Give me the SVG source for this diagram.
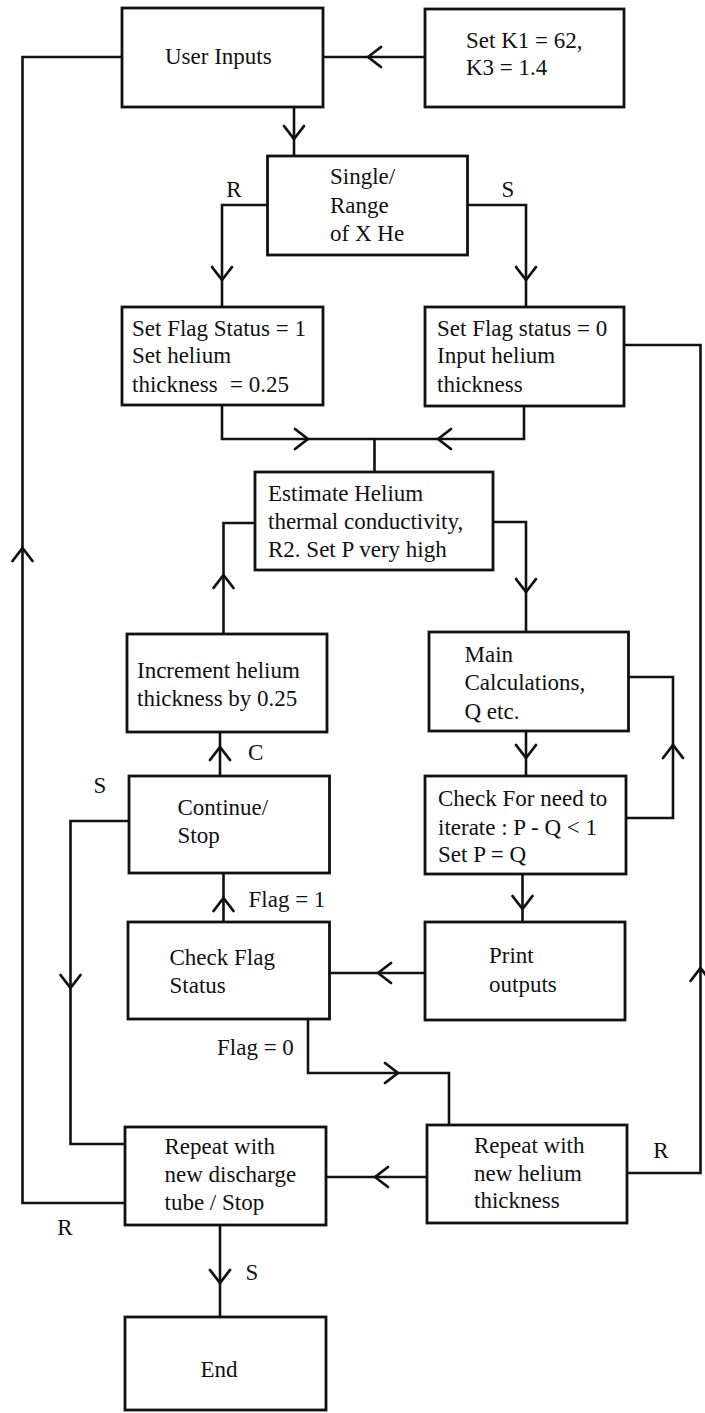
<svg xmlns="http://www.w3.org/2000/svg" xmlns:xlink="http://www.w3.org/1999/xlink" width="705" height="1413" viewBox="0 0 705 1413">
  <style>
    .box { fill: #ffffff; stroke: #111111; stroke-width: 2.8; }
    .wire { fill: none; stroke: #111111; stroke-width: 2.6; }
    .chev { fill: none; stroke: #111111; stroke-width: 2.8; stroke-linecap: round; stroke-linejoin: round; }
    text { font-family: "Liberation Serif", "Times New Roman", serif; font-size: 23px; fill: #111111; }
    .mid { text-anchor: middle; }
  </style>
  <defs>
    <!-- open chevron, tip at origin, pointing down -->
    <path id="chev" class="chev" d="M-10,-13 L0,0 L10,-13"/>
  </defs>
  <rect width="705" height="1413" fill="#ffffff"/>

  <!-- connectors -->
  <g id="connectors">
    <path class="wire" d="M425,57 H323"/>
    <path class="wire" d="M294,107 V156"/>
    <path class="wire" d="M267.5,205 H222 V307"/>
    <path class="wire" d="M467.5,205 H526 V307"/>
    <path class="wire" d="M222,405 V439 H524 V406"/>
    <path class="wire" d="M374.5,439 V472"/>
    <path class="wire" d="M493,522 H526 V632"/>
    <path class="wire" d="M223.5,634 V523 H255"/>
    <path class="wire" d="M526,731 V776"/>
    <path class="wire" d="M626,818 H673 V677 H628.5"/>
    <path class="wire" d="M220,776 V732"/>
    <path class="wire" d="M522.5,874 V922"/>
    <path class="wire" d="M223.5,922 V873"/>
    <path class="wire" d="M425,973 H329.5"/>
    <path class="wire" d="M308,1019 V1073 H449 V1125"/>
    <path class="wire" d="M129,821 H70.5 V1144 H125"/>
    <path class="wire" d="M427,1177 H326"/>
    <path class="wire" d="M627,1173 H700.5 V345 H624"/>
    <path class="wire" d="M125,1203 H22.5 V57 H122"/>
    <path class="wire" d="M220,1225 V1317"/>

    <!-- arrowheads -->
    <use xlink:href="#chev" transform="translate(368,57) rotate(90)"/>
    <use xlink:href="#chev" transform="translate(294,139)"/>
    <use xlink:href="#chev" transform="translate(222,280)"/>
    <use xlink:href="#chev" transform="translate(526,280)"/>
    <use xlink:href="#chev" transform="translate(308,439) rotate(-90)"/>
    <use xlink:href="#chev" transform="translate(438,439) rotate(90)"/>
    <use xlink:href="#chev" transform="translate(526,592)"/>
    <use xlink:href="#chev" transform="translate(223.5,575) rotate(180)"/>
    <use xlink:href="#chev" transform="translate(526,758)"/>
    <use xlink:href="#chev" transform="translate(673,745) rotate(180)"/>
    <use xlink:href="#chev" transform="translate(220,747) rotate(180)"/>
    <use xlink:href="#chev" transform="translate(522.5,909)"/>
    <use xlink:href="#chev" transform="translate(223.5,898) rotate(180)"/>
    <use xlink:href="#chev" transform="translate(378,973) rotate(90)"/>
    <use xlink:href="#chev" transform="translate(398,1073) rotate(-90)"/>
    <use xlink:href="#chev" transform="translate(70.5,988)"/>
    <use xlink:href="#chev" transform="translate(375,1177) rotate(90)"/>
    <use xlink:href="#chev" transform="translate(700.5,968) rotate(180)"/>
    <use xlink:href="#chev" transform="translate(22.5,548) rotate(180)"/>
    <use xlink:href="#chev" transform="translate(220,1283)"/>

    <!-- branch labels -->
    <text x="234" y="197" class="mid">R</text>
    <text x="508" y="197" class="mid">S</text>
    <text x="248" y="760">C</text>
    <text x="100" y="793" class="mid">S</text>
    <text x="248.5" y="907">Flag = 1</text>
    <text x="217" y="1055">Flag = 0</text>
    <text x="661" y="1158" class="mid">R</text>
    <text x="65" y="1235" class="mid">R</text>
    <text x="252" y="1280" class="mid">S</text>
  </g>

  <g id="user-inputs">
    <rect class="box" x="122" y="8" width="201" height="99"/>
    <text x="165" y="64">User Inputs</text>
  </g>

  <g id="set-constants">
    <rect class="box" x="425" y="9" width="199" height="98"/>
    <text x="466" y="48">Set K1 = 62,</text>
    <text x="466" y="75">K3 = 1.4</text>
  </g>

  <g id="single-range">
    <rect class="box" x="267.5" y="156" width="200" height="99"/>
    <text x="330" y="184">Single/</text>
    <text x="330" y="213">Range</text>
    <text x="330" y="241">of X He</text>
  </g>

  <g id="range-setup">
    <rect class="box" x="122" y="307" width="201" height="98"/>
    <text x="132" y="336">Set Flag Status = 1</text>
    <text x="132" y="363">Set helium</text>
    <text x="132" y="392">thickness<tspan x="230">= 0.25</tspan></text>
  </g>

  <g id="single-setup">
    <rect class="box" x="425" y="307" width="199" height="99"/>
    <text x="437" y="336">Set Flag status = 0</text>
    <text x="437" y="363">Input helium</text>
    <text x="437" y="392">thickness</text>
  </g>

  <g id="estimate-helium">
    <rect class="box" x="255" y="472" width="238" height="98"/>
    <text x="268" y="501">Estimate Helium</text>
    <text x="268" y="529">thermal conductivity,</text>
    <text x="268" y="557">R2. Set P very high</text>
  </g>

  <g id="increment-thickness">
    <rect class="box" x="127" y="634" width="200" height="98"/>
    <text x="137" y="678">Increment helium</text>
    <text x="137" y="706">thickness by 0.25</text>
  </g>

  <g id="main-calculations">
    <rect class="box" x="429" y="632" width="199.5" height="99"/>
    <text x="464.5" y="662">Main</text>
    <text x="464.5" y="690">Calculations,</text>
    <text x="464.5" y="719">Q etc.</text>
  </g>

  <g id="continue-stop">
    <rect class="box" x="129" y="776" width="200.5" height="97"/>
    <text x="177.5" y="815">Continue/</text>
    <text x="177.5" y="843">Stop</text>
  </g>

  <g id="check-iterate">
    <rect class="box" x="425" y="776" width="201" height="98"/>
    <text x="438" y="806">Check For need to</text>
    <text x="438" y="835">iterate : P - Q &lt; 1</text>
    <text x="438" y="862">Set P = Q</text>
  </g>

  <g id="check-flag">
    <rect class="box" x="128" y="922" width="201.5" height="97"/>
    <text x="169.5" y="965">Check Flag</text>
    <text x="169.5" y="993">Status</text>
  </g>

  <g id="print-outputs">
    <rect class="box" x="425" y="922" width="200" height="98"/>
    <text x="489" y="963">Print</text>
    <text x="489" y="992">outputs</text>
  </g>

  <g id="repeat-tube">
    <rect class="box" x="125" y="1127" width="201" height="98"/>
    <text x="164.5" y="1154">Repeat with</text>
    <text x="164.5" y="1182">new discharge</text>
    <text x="164.5" y="1210">tube / Stop</text>
  </g>

  <g id="repeat-thickness">
    <rect class="box" x="427" y="1125" width="200" height="98"/>
    <text x="474" y="1153">Repeat with</text>
    <text x="474" y="1181">new helium</text>
    <text x="474" y="1208">thickness</text>
  </g>

  <g id="end">
    <rect class="box" x="125" y="1317" width="201" height="93"/>
    <text x="219" y="1377" class="mid">End</text>
  </g>
</svg>
